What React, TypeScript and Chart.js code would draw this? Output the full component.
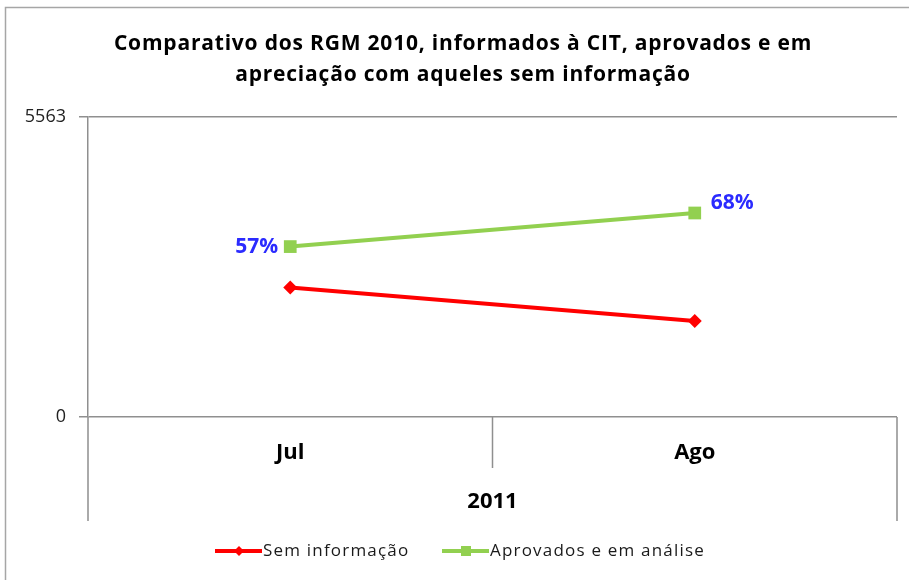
import { useEffect, useRef } from "react";
import { Chart, registerables } from "chart.js";
Chart.register(...registerables);

const TITLE_LINES = [
  "Comparativo dos RGM 2010, informados à CIT, aprovados e em",
  "apreciação com aqueles sem informação",
];
const CATEGORIES = ["Jul", "Ago"];
const GROUP_LABEL = "2011";
const SERIES_NAMES = ["Sem informação", "Aprovados e em análise"];
const SEM_INFO = [2403, 1780];
const APROVADOS = [3160, 3783];
const APROVADOS_PCT = ["57%", "68%"];
const Y_MIN = 0;
const Y_MAX = 5563;
const Y_TICKS = [0, 5563];

const FONT = "'Open Sans', 'Liberation Sans', sans-serif";
const RED = "#ff0000";
const GREEN = "#92d050";
const GRID = "#8f8f8f";
const LABEL_BLUE = "#2b2bff";

const decorPlugin = {
  id: "decor",
  afterDraw(chart: any) {
    const ctx = chart.ctx as CanvasRenderingContext2D;
    const x = chart.scales.x;
    const area = chart.chartArea;
    ctx.save();
    // outer border
    ctx.strokeStyle = "#a6a6a6";
    ctx.lineWidth = 1.5;
    ctx.strokeRect(5.5, 7.5, 960, 640);

    // title
    ctx.fillStyle = "#000";
    ctx.textAlign = "center";
    ctx.textBaseline = "middle";
    ctx.font = `bold 21px ${FONT}`;
    (ctx as any).letterSpacing = "0.8px";
    ctx.fillText(TITLE_LINES[0], 463, 44);
    ctx.fillText(TITLE_LINES[1], 463, 75);
    (ctx as any).letterSpacing = "0px";

    // category box lines below the axis
    ctx.strokeStyle = GRID;
    ctx.lineWidth = 1.5;
    const xl = x.getPixelForValue(-0.5);
    const xm = x.getPixelForValue(0.5);
    const xr = x.getPixelForValue(1.5);
    ctx.beginPath();
    ctx.moveTo(xl, area.bottom);
    ctx.lineTo(xl, area.bottom + 104);
    ctx.moveTo(xr, area.bottom);
    ctx.lineTo(xr, area.bottom + 104);
    ctx.moveTo(xm, area.bottom);
    ctx.lineTo(xm, area.bottom + 51);
    ctx.stroke();

    // group label
    ctx.fillStyle = "#000";
    ctx.font = `bold 22px ${FONT}`;
    ctx.fillText(GROUP_LABEL, xm, area.bottom + 85);

    // data labels
    const meta = chart.getDatasetMeta(1);
    ctx.fillStyle = LABEL_BLUE;
    ctx.font = `bold 21px ${FONT}`;
    const p0 = meta.data[0];
    ctx.textAlign = "right";
    ctx.fillText(APROVADOS_PCT[0], p0.x - 12, p0.y);
    const p1 = meta.data[1];
    ctx.textAlign = "left";
    ctx.fillText(APROVADOS_PCT[1], p1.x + 16, p1.y - 10);

    // legend
    const ly = 551;
    const items = [
      { name: SERIES_NAMES[0], color: RED, style: "diamond", x0: 215 },
      { name: SERIES_NAMES[1], color: GREEN, style: "square", x0: 442 },
    ];
    ctx.font = `17px ${FONT}`;
    (ctx as any).letterSpacing = "1.2px";
    ctx.textAlign = "left";
    for (const it of items) {
      ctx.strokeStyle = it.color;
      ctx.lineWidth = 4;
      ctx.beginPath();
      ctx.moveTo(it.x0, ly);
      ctx.lineTo(it.x0 + 47, ly);
      ctx.stroke();
      ctx.fillStyle = it.color;
      const cx = it.x0 + 24;
      if (it.style === "diamond") {
        ctx.beginPath();
        ctx.moveTo(cx, ly - 5);
        ctx.lineTo(cx + 5, ly);
        ctx.lineTo(cx, ly + 5);
        ctx.lineTo(cx - 5, ly);
        ctx.closePath();
        ctx.fill();
      } else {
        ctx.fillRect(cx - 5, ly - 5, 10, 10);
      }
      ctx.fillStyle = "#1a1a1a";
      ctx.fillText(it.name, it.x0 + 48, ly);
    }
    ctx.restore();
  },
};

export default function App() {
  const ref = useRef<HTMLCanvasElement | null>(null);
  useEffect(() => {
    if (!ref.current) return;
    const chart = new Chart(ref.current, {
      type: "line",
      data: {
        labels: CATEGORIES,
        datasets: [
          {
            label: SERIES_NAMES[0],
            data: SEM_INFO,
            borderColor: RED,
            backgroundColor: RED,
            borderWidth: 4,
            pointStyle: "rectRot",
            pointRadius: 7,
            pointBorderWidth: 0,
          },
          {
            label: SERIES_NAMES[1],
            data: APROVADOS,
            borderColor: GREEN,
            backgroundColor: GREEN,
            borderWidth: 4,
            pointStyle: "rect",
            pointRadius: 9,
            pointBorderWidth: 0,
          },
        ],
      },
      options: {
        animation: false,
        responsive: false,
        maintainAspectRatio: false,
        layout: { padding: { left: 0, top: 117, right: 12, bottom: 0 } },
        plugins: {
          legend: { display: false },
          title: { display: false },
          tooltip: { enabled: false },
        },
        scales: {
          x: {
            offset: true,
            grid: { display: false },
            border: { display: false },
            ticks: {
              padding: 15,
              color: "#000",
              font: { family: FONT, size: 22, weight: "bold" },
            },
            afterFit(s: any) {
              s.height = 163;
            },
          },
          y: {
            min: Y_MIN,
            max: Y_MAX,
            afterBuildTicks(axis: any) {
              axis.ticks = Y_TICKS.map((v) => ({ value: v }));
            },
            afterFit(s: any) {
              s.width = 88;
            },
            grid: { color: GRID, lineWidth: 1.5, tickLength: 9 },
            border: { display: true, color: GRID, width: 1.5 },
            ticks: {
              padding: 13,
              color: "#222",
              font: { family: FONT, size: 18 },
              callback: (v: any) => String(v),
            },
          },
        },
      },
      plugins: [decorPlugin],
    });
    return () => chart.destroy();
  }, []);
  return (
    <div style={{ position: "fixed", left: 0, top: 0, width: 909, height: 580, background: "#fff" }}>
      <canvas ref={ref} width={909} height={580} style={{ width: 909, height: 580, display: "block" }} />
    </div>
  );
}
